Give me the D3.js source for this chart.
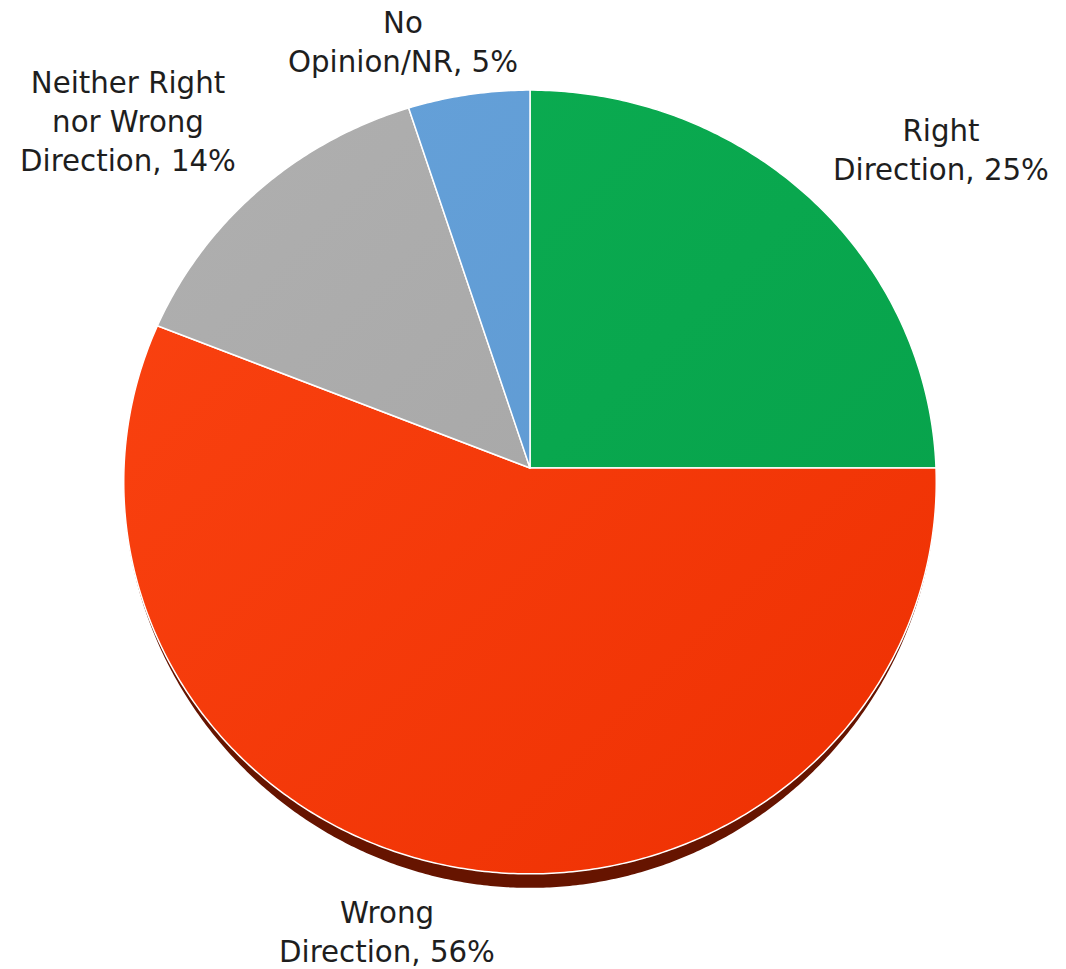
<!DOCTYPE html>
<html><head><meta charset="utf-8">
<script src="https://cdn.jsdelivr.net/npm/d3@7"></script>
<style>html,body{margin:0;padding:0;background:#fff}</style>
</head><body>
<svg id="c" width="1066" height="969"></svg>
<script>
// ---- data ----
const categories = ["Right Direction", "Wrong Direction", "Neither Right nor Wrong Direction", "No Opinion/NR"];
const values = [25, 56, 14, 5];
const labelLines = [["Right", "Direction, 25%"], ["Wrong", "Direction, 56%"], ["Neither Right", "nor Wrong", "Direction, 14%"], ["No", "Opinion/NR, 5%"]];

// ---- style / layout ----
const colorsLight = ["#0cae52", "#fb4412", "#b0b0b0", "#66a2da"];
const colorsDark  = ["#06a04a", "#ee3002", "#a2a2a2", "#5b96cf"];
const labelAnchor = [[941, 141], [387, 923], [128, 93], [403, 33]];
const lineH = 39;

const W = 1066, H = 969;
const cx = 530, cy = 468, R = 406;
const u = 0.0357, a0 = 0.964, depth = 14;

const svg = d3.select("#c");
svg.append("rect").attr("width", W).attr("height", H).attr("fill", "#fff");
const defs = svg.append("defs");
values.forEach((v, i) => {
  const g = defs.append("linearGradient").attr("id", "g" + i)
    .attr("gradientUnits", "userSpaceOnUse")
    .attr("x1", cx - R).attr("y1", cy - R).attr("x2", cx + R).attr("y2", cy + R);
  g.append("stop").attr("offset", 0).attr("stop-color", colorsLight[i]);
  g.append("stop").attr("offset", 1).attr("stop-color", colorsDark[i]);
});

function proj(a, r) {
  const x = r * Math.sin(a), y = -r * Math.cos(a);
  const d = 1 - u * y / R;
  return [cx + x / d, cy + a0 * y / d];
}
const line = d3.line();
function slicePath(d) {
  const pts = [proj(0, 0)];
  const n = Math.max(8, Math.ceil((d.endAngle - d.startAngle) / 0.01));
  for (let k = 0; k <= n; k++) pts.push(proj(d.startAngle + (d.endAngle - d.startAngle) * k / n, R));
  return line(pts) + "Z";
}
const pie = d3.pie().sort(null).value(d => d);
const arcs = pie(values);

// side wall (extrusion) on the lower rim
(function () {
  const top = [], bot = [];
  const n = 400;
  for (let k = 0; k <= n; k++) {
    const a = Math.PI / 2 + Math.PI * k / n;
    const p = proj(a, R);
    const f = Math.pow(Math.max(0, -Math.cos(a)), 1.6);
    top.push(p);
    bot.push([p[0], p[1] + depth * f]);
  }
  svg.append("path").attr("d", line(top.concat(bot.reverse())) + "Z").attr("fill", "#661400");
})();

svg.append("g").selectAll("path").data(arcs).join("path")
  .attr("d", slicePath)
  .attr("fill", (d, i) => `url(#g${i})`)
  .attr("stroke", "#fff").attr("stroke-width", 1.5).attr("stroke-linejoin", "round");

// labels
const font = "DejaVu Sans";
const probe = svg.append("text").attr("font-family", font).attr("font-size", 100).text("Direction, 25%");
const wProbe = probe.node().getComputedTextLength();
probe.remove();
const fs = 100 * 216 / wProbe;

const lg = svg.append("g").attr("font-family", font).attr("font-size", fs).attr("fill", "#1e1e1e").attr("text-anchor", "middle");
labelLines.forEach((lines, i) => {
  const t = lg.append("text").attr("x", labelAnchor[i][0]).attr("y", labelAnchor[i][1]);
  lines.forEach((s, j) => t.append("tspan").attr("x", labelAnchor[i][0]).attr("y", labelAnchor[i][1] + j * lineH).text(s));
});
</script>
</body></html>
